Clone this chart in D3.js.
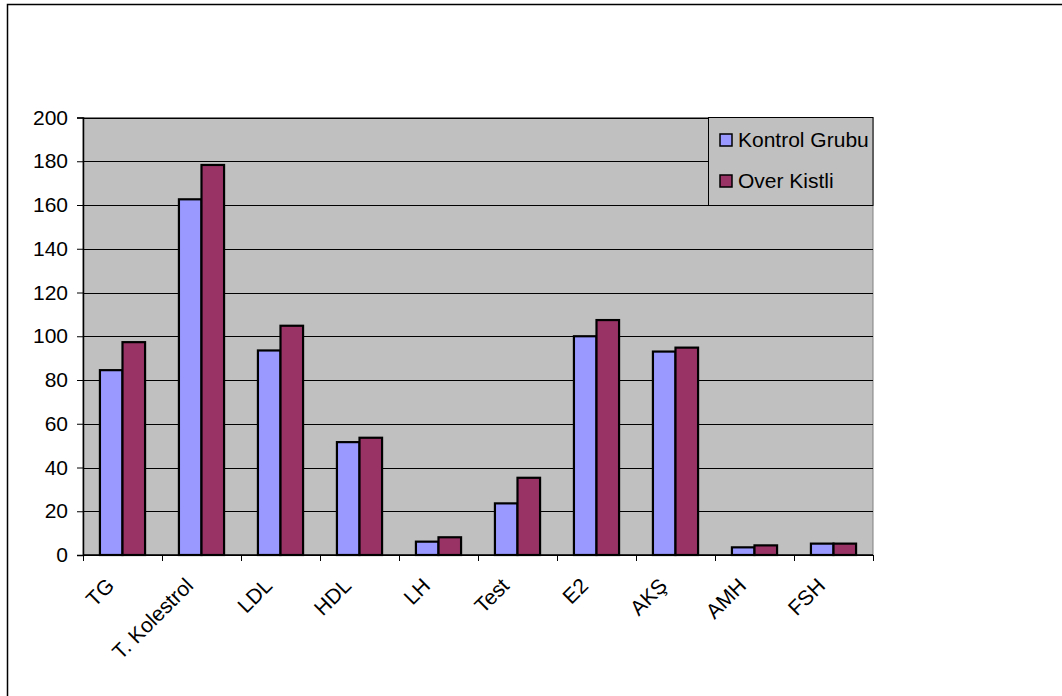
<!DOCTYPE html>
<html>
<head>
<meta charset="utf-8">
<script src="https://cdn.jsdelivr.net/npm/d3@7"></script>
<style>
  body { margin: 0; background: #fff; }
  text { font-family: "Liberation Sans", Arial, sans-serif; font-size: 21px; fill: #000; }
</style>
</head>
<body>
<div class="chart"></div>
<script>
// Data
let categories = ["TG", "T. Kolestrol", "LDL", "HDL", "LH", "Test", "E2", "AKŞ", "AMH", "FSH"];
let kontrol = [84.5, 162.6, 93.5, 51.6, 6.1, 23.6, 100, 93, 3.5, 5.2];
let over = [97.3, 178.3, 104.8, 53.6, 8.1, 35.3, 107.4, 94.8, 4.4, 5.2];
let seriesNames = ["Kontrol Grubu", "Over Kistli"];
let yTicks = [0, 20, 40, 60, 80, 100, 120, 140, 160, 180, 200];

// Global Variables
let width = 1062;
let height = 696;
let plot = { left: 83, right: 873, top: 117.5, bottom: 555 };
let colors = ["#9999ff", "#993366"];

let svg = d3
  .select(".chart")
  .append("svg")
  .attr("width", width)
  .attr("height", height);

// Outer chart border
svg
  .append("rect")
  .attr("x", 7.5)
  .attr("y", 4.5)
  .attr("width", 1200)
  .attr("height", 900)
  .attr("fill", "#fff")
  .attr("stroke", "#000")
  .attr("stroke-width", 1.5);

// Scales
let x0 = d3.scaleBand().domain(categories).range([plot.left, plot.right]);
let x1 = d3
  .scaleBand()
  .domain(seriesNames)
  .range([0, x0.bandwidth()])
  .paddingInner(0)
  .paddingOuter(0.75);
let y = d3.scaleLinear().domain([0, 200]).range([plot.bottom, plot.top]);

// Plot background
svg
  .append("rect")
  .attr("x", plot.left)
  .attr("y", plot.top)
  .attr("width", plot.right - plot.left)
  .attr("height", plot.bottom - plot.top)
  .attr("fill", "#c0c0c0")
  .attr("stroke", "#808080")
  .attr("stroke-width", 1);

// Gridlines
svg
  .append("g")
  .selectAll("line")
  .data(yTicks)
  .enter()
  .append("line")
  .attr("x1", plot.left)
  .attr("x2", plot.right)
  .attr("y1", (d) => Math.round(y(d)) + 0.5)
  .attr("y2", (d) => Math.round(y(d)) + 0.5)
  .attr("stroke", "#000")
  .attr("stroke-width", 1);

// Bars
let data = categories.map((c, i) => ({ cat: c, vals: [kontrol[i], over[i]] }));
let groups = svg
  .append("g")
  .selectAll("g")
  .data(data)
  .enter()
  .append("g")
  .attr("transform", (d) => `translate(${x0(d.cat)},0)`);

groups
  .selectAll("rect")
  .data((d) => d.vals.map((v, j) => ({ name: seriesNames[j], v: v, j: j })))
  .enter()
  .append("rect")
  .attr("x", (d) => x1(d.name))
  .attr("y", (d) => y(d.v))
  .attr("width", x1.bandwidth())
  .attr("height", (d) => y(0) - y(d.v))
  .attr("fill", (d) => colors[d.j])
  .attr("stroke", "#000")
  .attr("stroke-width", 2.2);

// Y axis
let yAxis = d3
  .axisLeft(y)
  .tickValues(yTicks)
  .tickSize(6)
  .tickPadding(9);
let gy = svg
  .append("g")
  .attr("transform", `translate(${plot.left},0)`)
  .call(yAxis);
gy.select(".domain").attr("stroke", "#000").attr("stroke-width", 1.5);
gy.selectAll(".tick line").attr("stroke", "#000");
gy.selectAll(".tick text")
  .style("font-size", "21px")
  .style("font-family", "Liberation Sans, Arial, sans-serif")
  .attr("fill", "#000");

// X axis line and ticks at category boundaries
let bounds = categories.map((c) => x0(c)).concat([plot.right]);
svg
  .append("line")
  .attr("x1", plot.left)
  .attr("x2", plot.right)
  .attr("y1", plot.bottom)
  .attr("y2", plot.bottom)
  .attr("stroke", "#000")
  .attr("stroke-width", 1.5);
svg
  .append("g")
  .selectAll("line")
  .data(bounds)
  .enter()
  .append("line")
  .attr("x1", (d) => Math.round(d) + 0.5)
  .attr("x2", (d) => Math.round(d) + 0.5)
  .attr("y1", plot.bottom)
  .attr("y2", plot.bottom + 6)
  .attr("stroke", "#000");

// X labels rotated
svg
  .append("g")
  .selectAll("text")
  .data(categories)
  .enter()
  .append("text")
  .attr("text-anchor", "end")
  .attr("transform", (d) => `translate(${x0(d) + x0.bandwidth() / 2 - 7},587) rotate(-45)`)
  .text((d) => d);

// Legend
let legend = svg.append("g");
legend
  .append("rect")
  .attr("x", 708.5)
  .attr("y", 117.5)
  .attr("width", 164.5)
  .attr("height", 88)
  .attr("fill", "#c0c0c0")
  .attr("stroke", "#000")
  .attr("stroke-width", 1);

let legendRows = legend
  .selectAll("g")
  .data(seriesNames)
  .enter()
  .append("g")
  .attr("transform", (d, i) => `translate(0,${140 + i * 41})`);
legendRows
  .append("rect")
  .attr("x", 720)
  .attr("y", -6)
  .attr("width", 12)
  .attr("height", 12)
  .attr("fill", (d, i) => colors[i])
  .attr("stroke", "#000")
  .attr("stroke-width", 1.5);
legendRows
  .append("text")
  .attr("x", 738)
  .attr("y", 7)
  .text((d) => d);
</script>
</body>
</html>
